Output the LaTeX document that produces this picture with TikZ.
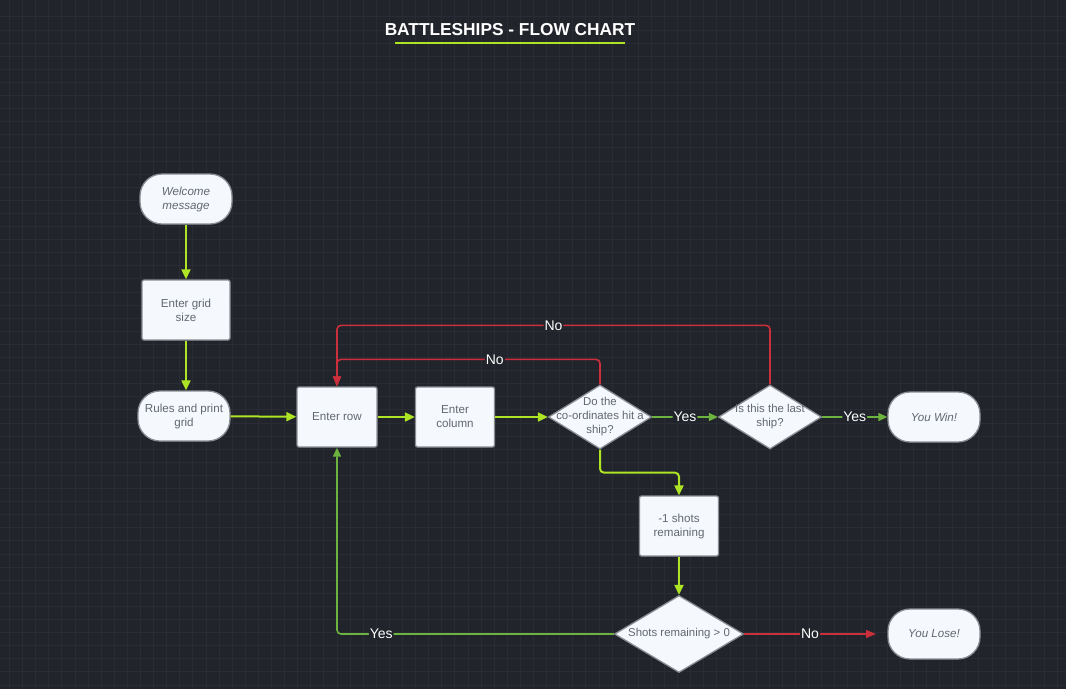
\documentclass[tikz,border=0pt]{standalone}
\usepackage{fontspec}
\setmainfont{Liberation Sans}
\usetikzlibrary{arrows.meta}
\usetikzlibrary{shapes.geometric}
\usetikzlibrary{positioning}
\definecolor{bgcol}{HTML}{21242B}
\definecolor{gridcol}{HTML}{292C34}
\definecolor{boxfill}{HTML}{F5F9FE}
\definecolor{boxline}{HTML}{8A8D92}
\definecolor{boxtext}{HTML}{62676F}
\definecolor{lime}{HTML}{ADE524}
\definecolor{leaf}{HTML}{6DB33F}
\definecolor{alarm}{HTML}{CC2F3C}
\tikzset{box/.style = {draw = boxline, fill = boxfill, line width = 1.3pt, rounded corners = 2pt,
    text = boxtext, align = center, font = \fontsize{11.6}{14}\selectfont,
    minimum width = 80pt, minimum height = 60pt, inner sep = 1pt}}
\tikzset{term/.style = {box, rounded corners = 22pt, minimum width = 92pt, minimum height = 50pt}}
\tikzset{dia/.style = {diamond, draw = boxline, fill = boxfill, line width = 1.3pt, inner sep = 0pt}}
\tikzset{diatext/.style = {text = boxtext, align = center, font = \fontsize{11.4}{14}\selectfont}}
\tikzset{flow/.style = {draw = lime, line width = 2pt, rounded corners = 4pt, -{Triangle[length = 10pt, width = 9pt]}}}
\tikzset{yesline/.style = {draw = leaf, line width = 1.6pt, rounded corners = 4pt, -{Triangle[length = 9pt, width = 8pt]}}}
\tikzset{noline/.style = {draw = alarm, line width = 1.6pt, rounded corners = 4pt, -{Triangle[length = 10pt, width = 8pt]}}}
\tikzset{lbl/.style = {fill = bgcol, text = white, inner sep = 1pt, font = \fontsize{14}{16}\selectfont}}

\begin{document}
\begin{tikzpicture}[x = 1pt, y = -1pt]
    \useasboundingbox[fill = bgcol] (0, 0) rectangle (1066, 689);
    \foreach \i in {0, ..., 81}
        \draw[gridcol, line width = 0.6pt] ({9.3 + 13.1 * \i}, 0) -- ++(0, 689);
    \foreach \i in {0, ..., 52}
        \draw[gridcol, line width = 0.6pt] (0, {16.7 + 13.1 * \i}) -- ++(1066, 0);

    % title
    \node[text = white, font = \bfseries\fontsize{17.3}{19}\selectfont] (title) at (510, 30) {BATTLESHIPS - FLOW CHART};
    \draw[lime, line width = 2.5pt] (395, 43) -- (625, 43);

    % nodes
    \node[term, font = \itshape\fontsize{11.6}{14}\selectfont] (welcome) at (186, 199) {Welcome\\message};
    \node[box, minimum width = 88pt] (gridsize) at (186, 310) {Enter grid\\size};
    \node[term] (rules) at (184, 416) {Rules and print\\grid};
    \node[box] (row) at (337, 417) {Enter row};
    \node[box, minimum width = 79pt] (column) at (455, 417) {Enter\\column};
    \node[dia, minimum width = 103pt, minimum height = 64pt,
        label = {[diatext]center:Do the\\co-ordinates hit a\\ship?}] (hit) at (600, 417) {};
    \node[dia, minimum width = 103pt, minimum height = 64pt,
        label = {[diatext]center:Is this the last\\ship?}] (last) at (770, 417) {};
    \node[term, font = \itshape\fontsize{11.6}{14}\selectfont] (win) at (934, 417) {You Win!};
    \node[box, minimum width = 79pt] (shots) at (679, 526) {-1 shots\\remaining};
    \node[dia, minimum width = 129pt, minimum height = 77pt,
        label = {[diatext]center:Shots remaining > 0}] (left) at (679, 634) {};
    \node[term, font = \itshape\fontsize{11.6}{14}\selectfont] (lose) at (934, 634) {You Lose!};
    \coordinate (loseend) at (876, 634);

    % connectors
    \draw[flow] (welcome) -- (gridsize);
    \draw[flow] (gridsize.south) -- (gridsize.south |- rules.north);
    \draw[flow] (rules) -- (row);
    \draw[flow] (row) -- (column);
    \draw[flow] (column) -- (hit);
    \draw[yesline] (hit) -- node[lbl] {Yes} (last);
    \draw[yesline] (last) -- node[lbl] {Yes} (win);
    \draw[noline] (last.north) -- ++(0, -59) -| node[lbl, pos = 0.25] {No} (row.north);
    \draw[noline] (hit.north) -- ++(0, -25) -| node[lbl, pos = 0.2] {No} (row.north);
    \draw[flow] (hit.south) -- ++(0, 23) -| (shots.north);
    \draw[flow] (shots) -- (left);
    \draw[yesline] (left.west) -| node[lbl, pos = 0.42] {Yes} (row.south);
    \draw[noline] (left.east) -- node[lbl] {No} (loseend);
\end{tikzpicture}
\end{document}
